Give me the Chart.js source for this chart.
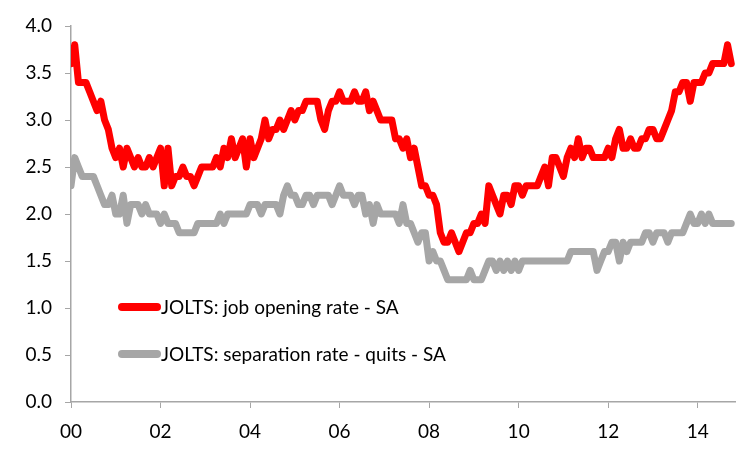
<!DOCTYPE html>
<html>
<head>
<meta charset="utf-8">
<title>JOLTS rates</title>
<script src="https://cdn.jsdelivr.net/npm/chart.js@4.4.1/dist/chart.umd.min.js"></script>
<style>
  body { margin: 0; background: #fff; }
  #wrap { width: 750px; height: 450px; }
</style>
</head>
<body>
<div id="wrap"><canvas id="myChart" width="750" height="450"></canvas></div>
<script>
'use strict';

// monthly readings, one row per year (2000 .. 2014)
var openingRate = [
  3.6, 3.8, 3.4, 3.4, 3.4, 3.3, 3.2, 3.1, 3.2, 3.0, 2.9, 2.7,
  2.6, 2.7, 2.5, 2.7, 2.6, 2.5, 2.6, 2.5, 2.5, 2.6, 2.5, 2.6,
  2.7, 2.3, 2.7, 2.3, 2.4, 2.4, 2.5, 2.4, 2.4, 2.3, 2.4, 2.5,
  2.5, 2.5, 2.5, 2.6, 2.5, 2.7, 2.6, 2.8, 2.6, 2.7, 2.8, 2.5,
  2.8, 2.6, 2.7, 2.8, 3.0, 2.8, 2.9, 2.9, 3.0, 2.9, 3.0, 3.1,
  3.0, 3.1, 3.1, 3.2, 3.2, 3.2, 3.2, 3.0, 2.9, 3.1, 3.2, 3.2,
  3.3, 3.2, 3.2, 3.2, 3.3, 3.2, 3.2, 3.3, 3.1, 3.2, 3.1, 3.0,
  3.0, 3.0, 3.0, 2.8, 2.8, 2.7, 2.8, 2.6, 2.7, 2.5, 2.3, 2.3,
  2.2, 2.2, 2.1, 1.8, 1.7, 1.7, 1.8, 1.7, 1.6, 1.7, 1.8, 1.8,
  1.9, 1.9, 2.0, 1.9, 2.3, 2.2, 2.1, 2.0, 2.2, 2.2, 2.1, 2.3,
  2.3, 2.2, 2.3, 2.3, 2.3, 2.3, 2.4, 2.5, 2.3, 2.6, 2.6, 2.5,
  2.4, 2.6, 2.7, 2.6, 2.8, 2.6, 2.7, 2.7, 2.6, 2.6, 2.6, 2.6,
  2.7, 2.6, 2.8, 2.9, 2.7, 2.7, 2.8, 2.7, 2.7, 2.8, 2.8, 2.9,
  2.9, 2.8, 2.8, 2.9, 3.0, 3.1, 3.3, 3.3, 3.4, 3.4, 3.2, 3.4,
  3.4, 3.4, 3.5, 3.5, 3.6, 3.6, 3.6, 3.6, 3.8, 3.6
];
var quitsRate = [
  2.3, 2.6, 2.5, 2.4, 2.4, 2.4, 2.4, 2.3, 2.2, 2.1, 2.1, 2.2,
  2.0, 2.0, 2.2, 1.9, 2.1, 2.1, 2.1, 2.0, 2.1, 2.0, 2.0, 2.0,
  1.9, 2.0, 1.9, 1.9, 1.9, 1.8, 1.8, 1.8, 1.8, 1.8, 1.9, 1.9,
  1.9, 1.9, 1.9, 1.9, 2.0, 1.9, 2.0, 2.0, 2.0, 2.0, 2.0, 2.0,
  2.1, 2.1, 2.1, 2.0, 2.1, 2.1, 2.1, 2.1, 2.0, 2.2, 2.3, 2.2,
  2.2, 2.1, 2.1, 2.2, 2.2, 2.1, 2.2, 2.2, 2.2, 2.2, 2.1, 2.2,
  2.3, 2.2, 2.2, 2.2, 2.1, 2.2, 2.2, 2.0, 2.1, 1.9, 2.1, 2.0,
  2.0, 2.0, 2.0, 2.0, 1.9, 2.1, 1.9, 1.9, 1.8, 1.7, 1.8, 1.8,
  1.5, 1.6, 1.5, 1.5, 1.4, 1.3, 1.3, 1.3, 1.3, 1.3, 1.3, 1.4,
  1.3, 1.3, 1.3, 1.4, 1.5, 1.5, 1.4, 1.5, 1.4, 1.5, 1.4, 1.5,
  1.4, 1.5, 1.5, 1.5, 1.5, 1.5, 1.5, 1.5, 1.5, 1.5, 1.5, 1.5,
  1.5, 1.5, 1.6, 1.6, 1.6, 1.6, 1.6, 1.6, 1.6, 1.4, 1.5, 1.6,
  1.6, 1.7, 1.7, 1.5, 1.7, 1.6, 1.7, 1.7, 1.7, 1.7, 1.8, 1.8,
  1.7, 1.8, 1.8, 1.8, 1.7, 1.8, 1.8, 1.8, 1.8, 1.9, 2.0, 1.9,
  1.9, 2.0, 1.9, 2.0, 1.9, 1.9, 1.9, 1.9, 1.9, 1.9
];
var yearLabels = ['00', '02', '04', '06', '08', '10', '12', '14'];
var seriesNames = ['JOLTS: job opening rate - SA', 'JOLTS: separation rate - quits - SA'];

var MONTHS_PER_LABEL = 24;
var axisColor = '#a6a6a6';
var fontFamily = 'Lato, "Open Sans", sans-serif';

function toPoints(values) {
  return values.map(function(v, i) {
    return {x: i, y: v};
  });
}

// legend drawn inside the plot, lower left
var insideLegend = {
  id: 'insideLegend',
  afterDatasetsDraw: function(chart) {
    var ctx = chart.ctx;
    var rows = [307, 354];
    ctx.save();
    chart.data.datasets.forEach(function(ds, i) {
      ctx.beginPath();
      ctx.lineWidth = 8;
      ctx.lineCap = 'round';
      ctx.strokeStyle = ds.borderColor;
      ctx.moveTo(122, rows[i]);
      ctx.lineTo(157, rows[i]);
      ctx.stroke();
      ctx.fillStyle = '#000';
      ctx.font = '19px ' + fontFamily;
      ctx.textBaseline = 'middle';
      ctx.textAlign = 'left';
      ctx.fillText(ds.label, 161, rows[i] + 1);
    });
    ctx.restore();
  }
};

var tickFont = {family: fontFamily, size: 19};

var myChart = new Chart(document.getElementById('myChart').getContext('2d'), {
  type: 'line',
  data: {
    datasets: [{
      label: seriesNames[0],
      data: toPoints(openingRate),
      borderColor: '#ff0000',
      backgroundColor: '#ff0000'
    }, {
      label: seriesNames[1],
      data: toPoints(quitsRate),
      borderColor: '#a6a6a6',
      backgroundColor: '#a6a6a6'
    }]
  },
  options: {
    responsive: false,
    animation: false,
    layout: {
      padding: {top: 26, right: 15, left: 0, bottom: 0}
    },
    elements: {
      point: {radius: 0},
      line: {
        tension: 0,
        borderWidth: 7,
        borderJoinStyle: 'round',
        borderCapStyle: 'round'
      }
    },
    plugins: {
      legend: {display: false},
      tooltip: {enabled: false}
    },
    scales: {
      x: {
        type: 'linear',
        min: 0,
        max: 178,
        afterBuildTicks: function(scale) {
          scale.ticks = yearLabels.map(function(l, i) {
            return {value: i * MONTHS_PER_LABEL};
          });
        },
        afterFit: function(scale) {
          scale.height = 48;
        },
        grid: {drawOnChartArea: false, tickLength: 6, color: axisColor},
        border: {color: axisColor, width: 1.5},
        ticks: {
          font: tickFont,
          color: '#000',
          padding: 12,
          maxRotation: 0,
          autoSkip: false,
          callback: function(value) {
            return yearLabels[Math.round(value / MONTHS_PER_LABEL)];
          }
        }
      },
      y: {
        min: 0,
        max: 4,
        afterFit: function(scale) {
          scale.width = 71;
        },
        grid: {drawOnChartArea: false, tickLength: 6, color: axisColor},
        border: {color: axisColor, width: 1.5},
        ticks: {
          stepSize: 0.5,
          font: tickFont,
          color: '#000',
          padding: 13,
          callback: function(value) {
            return value.toFixed(1);
          }
        }
      }
    }
  },
  plugins: [insideLegend]
});
</script>
</body>
</html>
